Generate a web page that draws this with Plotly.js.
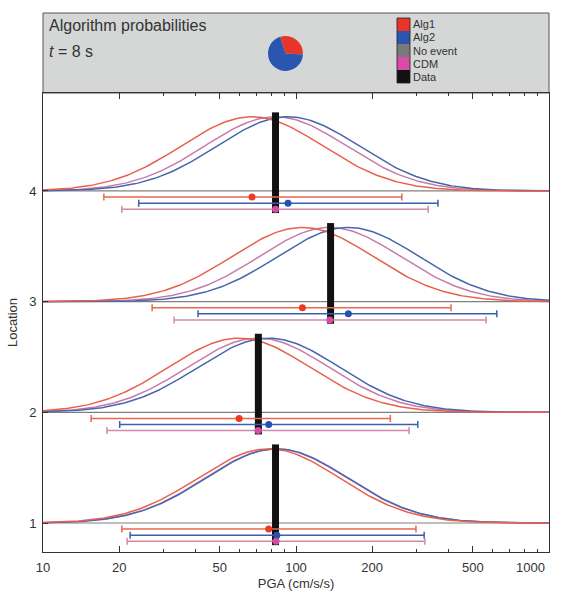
<!DOCTYPE html>
<html>
<head>
<meta charset="utf-8">
<script src="https://cdn.plot.ly/plotly-3.0.1.min.js"></script>
<style>html,body{margin:0;padding:0;background:#fff;}#chart{width:568px;height:592px;}</style>
</head>
<body>
<div id="chart"></div>
<script>
// ---- data ----
const locations = [1, 2, 3, 4];
const xTickVals = [10, 20, 50, 100, 200, 500, 1000];
const xTickText = ['10', '20', '50', '100', '200', '500', '1000'];
const xMinorVals = [30, 40, 60, 70, 80, 90, 300, 400, 600, 700, 800, 900];
const seriesNames = ['Alg1', 'Alg2', 'CDM'];
const alg1Median = [78, 59.6, 106, 67];
const alg1Lower  = [20.5, 15.5, 27.0, 17.4];
const alg1Upper  = [298, 236, 410, 262];
const alg2Median = [84, 78, 161, 93];
const alg2Lower  = [22.1, 20.1, 41.0, 23.9];
const alg2Upper  = [321, 303, 622, 364];
const cdmMedian  = [83.4, 70.8, 136, 83];
const cdmLower   = [21.5, 17.9, 33.0, 20.5];
const cdmUpper   = [323, 280, 564, 333];
const dataPGA    = [83, 71, 137, 83];
const curveSigmaLog10 = 0.28;     // width of the plotted distributions (decades)
const pieLabels = ['Alg1', 'Alg2', 'No event'];
const pieValues = [0.31, 0.69, 0.0];
const legendNames = ['Alg1', 'Alg2', 'No event', 'CDM', 'Data'];

// ---- styles ----
const FONT = 'Liberation Sans, Arial, sans-serif';
const legendColors = ['#e8352a', '#2a56b0', '#7a7a7a', '#d84ca8', '#111111'];
const curveColors = {Alg1: '#e8604c', Alg2: '#4766ae', CDM: '#c77aa8'};
const barColors = {Alg1: '#e8694f', Alg2: '#3a5fac', CDM: '#d08aa6'};
const dotColors = {Alg1: '#ec3a26', Alg2: '#2452b0', CDM: '#d84ca8'};
const peakH = 0.67, barOffsets = {Alg1: 0.055, Alg2: 0.11, CDM: 0.165};

// figure geometry helpers (pixels -> paper)
const W = 568, H = 592, ML = 43, MR = 19, MT = 13, MB = 40;
const PW = W - ML - MR, PH = H - MT - MB;
const px = p => (p - ML) / PW;
const py = p => (H - MB - p) / PH;
const plotTop = 93;

const medians = {Alg1: alg1Median, Alg2: alg2Median, CDM: cdmMedian};
const lowers = {Alg1: alg1Lower, Alg2: alg2Lower, CDM: cdmLower};
const uppers = {Alg1: alg1Upper, Alg2: alg2Upper, CDM: cdmUpper};

const traces = [];
// baselines
{
  const x = [], y = [];
  locations.forEach(l => { x.push(10, 1000, null); y.push(l, l, null); });
  traces.push({type: 'scatter', mode: 'lines', x, y, line: {color: '#808080', width: 1.2},
    hoverinfo: 'skip', showlegend: false});
}
// distribution curves
const NS = 241;
['CDM', 'Alg2', 'Alg1'].forEach(s => {
  const x = [], y = [];
  locations.forEach((l, i) => {
    const mu = Math.log10(medians[s][i]);
    for (let k = 0; k < NS; k++) {
      const lx = 1 + 2 * k / (NS - 1);
      x.push(Math.pow(10, lx));
      y.push(l + peakH * Math.exp(-0.5 * Math.pow((lx - mu) / curveSigmaLog10, 2)));
    }
    x.push(null); y.push(null);
  });
  traces.push({type: 'scatter', mode: 'lines', x, y, line: {color: curveColors[s], width: 1.5},
    hoverinfo: 'skip', showlegend: false});
});
// data bars
{
  const x = [], y = [];
  locations.forEach((l, i) => { x.push(dataPGA[i], dataPGA[i], null); y.push(l - 0.2, l + 0.71, null); });
  traces.push({type: 'scatter', mode: 'lines', x, y, line: {color: '#111', width: 7},
    name: 'Data', showlegend: false});
}
// error bars
seriesNames.forEach(s => {
  traces.push({
    type: 'scatter', mode: 'markers', name: s, showlegend: false,
    x: medians[s],
    y: locations.map(l => l - barOffsets[s]),
    marker: {color: dotColors[s], size: 7},
    error_x: {type: 'data', symmetric: false,
      array: uppers[s].map((u, i) => u - medians[s][i]),
      arrayminus: lowers[s].map((lo, i) => medians[s][i] - lo),
      color: barColors[s], thickness: 1.5, width: 3.5}
  });
});
// pie
traces.push({
  type: 'pie', labels: pieLabels, values: pieValues, sort: false, direction: 'clockwise',
  rotation: -18, textinfo: 'none', hoverinfo: 'label+percent', showlegend: false,
  marker: {colors: legendColors.slice(0, 3), line: {width: 0}},
  domain: {x: [px(268), px(303)], y: [py(71), py(36)]}
});

const shapes = [{
  type: 'rect', xref: 'paper', yref: 'paper', x0: 0, x1: 1, y0: py(plotTop), y1: 1,
  fillcolor: '#d4d7d5', line: {color: '#555', width: 1}, layer: 'below'
}];
const annotations = [
  {xref: 'paper', yref: 'paper', x: px(47), y: py(25), xanchor: 'left', yanchor: 'middle',
   text: 'Algorithm probabilities', showarrow: false, font: {family: FONT, size: 16, color: '#333'}},
  {xref: 'paper', yref: 'paper', x: px(47), y: py(51), xanchor: 'left', yanchor: 'middle',
   text: '<i>t</i> = 8 s', showarrow: false, font: {family: FONT, size: 16, color: '#333'}},
  // last x tick label sits inside the frame in the reference
  {xref: 'paper', yref: 'paper', x: px(547), y: py(558), xanchor: 'right', yanchor: 'top',
   text: xTickText[xTickText.length - 1], showarrow: false, font: {family: FONT, size: 13, color: '#333'}}
];
const sqTop = 18, sqH = 13;
legendNames.forEach((n, i) => {
  shapes.push({type: 'rect', xref: 'paper', yref: 'paper',
    x0: px(397), x1: px(410), y0: py(sqTop + (i + 1) * sqH), y1: py(sqTop + i * sqH),
    fillcolor: legendColors[i], line: {width: 0}});
  annotations.push({xref: 'paper', yref: 'paper', x: px(412), y: py(sqTop + (i + 0.5) * sqH),
    xanchor: 'left', yanchor: 'middle', text: n, showarrow: false, borderpad: 0,
    font: {family: FONT, size: 11, color: '#333'}});
});
shapes.push({type: 'rect', xref: 'paper', yref: 'paper', x0: px(397), x1: px(410),
  y0: py(sqTop + 5 * sqH), y1: py(sqTop), line: {color: '#222', width: 0.8}, fillcolor: 'rgba(0,0,0,0)'});

const layout = {
  width: W, height: H,
  margin: {l: ML, r: MR, t: MT, b: MB},
  paper_bgcolor: '#fff', plot_bgcolor: '#fff',
  font: {family: FONT, color: '#333', size: 13},
  showlegend: false,
  xaxis: {
    type: 'log', range: [1, 3], tickmode: 'array', tickvals: xTickVals,
    ticktext: xTickText.map((t, i) => i === xTickText.length - 1 ? '' : t),
    ticks: 'inside', ticklen: 6, tickcolor: '#333', ticklabelstandoff: 3,
    showline: true, linecolor: '#333', linewidth: 1, mirror: 'ticks', showgrid: false, zeroline: false,
    minor: {tickmode: 'array', tickvals: xMinorVals, ticks: 'inside', ticklen: 3, tickcolor: '#333', showgrid: false},
    tickfont: {family: FONT, size: 13, color: '#333'},
    title: {text: 'PGA (cm/s/s)', font: {family: FONT, size: 13, color: '#333'}, standoff: 5}
  },
  yaxis: {
    domain: [0, py(plotTop)], range: [0.738, 4.885], tickmode: 'array', tickvals: locations,
    ticks: 'inside', ticklen: 5, tickcolor: '#333', ticklabelstandoff: 3,
    showline: true, linecolor: '#333', linewidth: 1, mirror: true, showgrid: false, zeroline: false,
    tickfont: {family: FONT, size: 13, color: '#333'},
    title: {text: 'Location', font: {family: FONT, size: 13, color: '#333'}, standoff: 8}
  },
  shapes, annotations
};

Plotly.newPlot('chart', traces, layout, {staticPlot: true, displayModeBar: false});
</script>
</body>
</html>
